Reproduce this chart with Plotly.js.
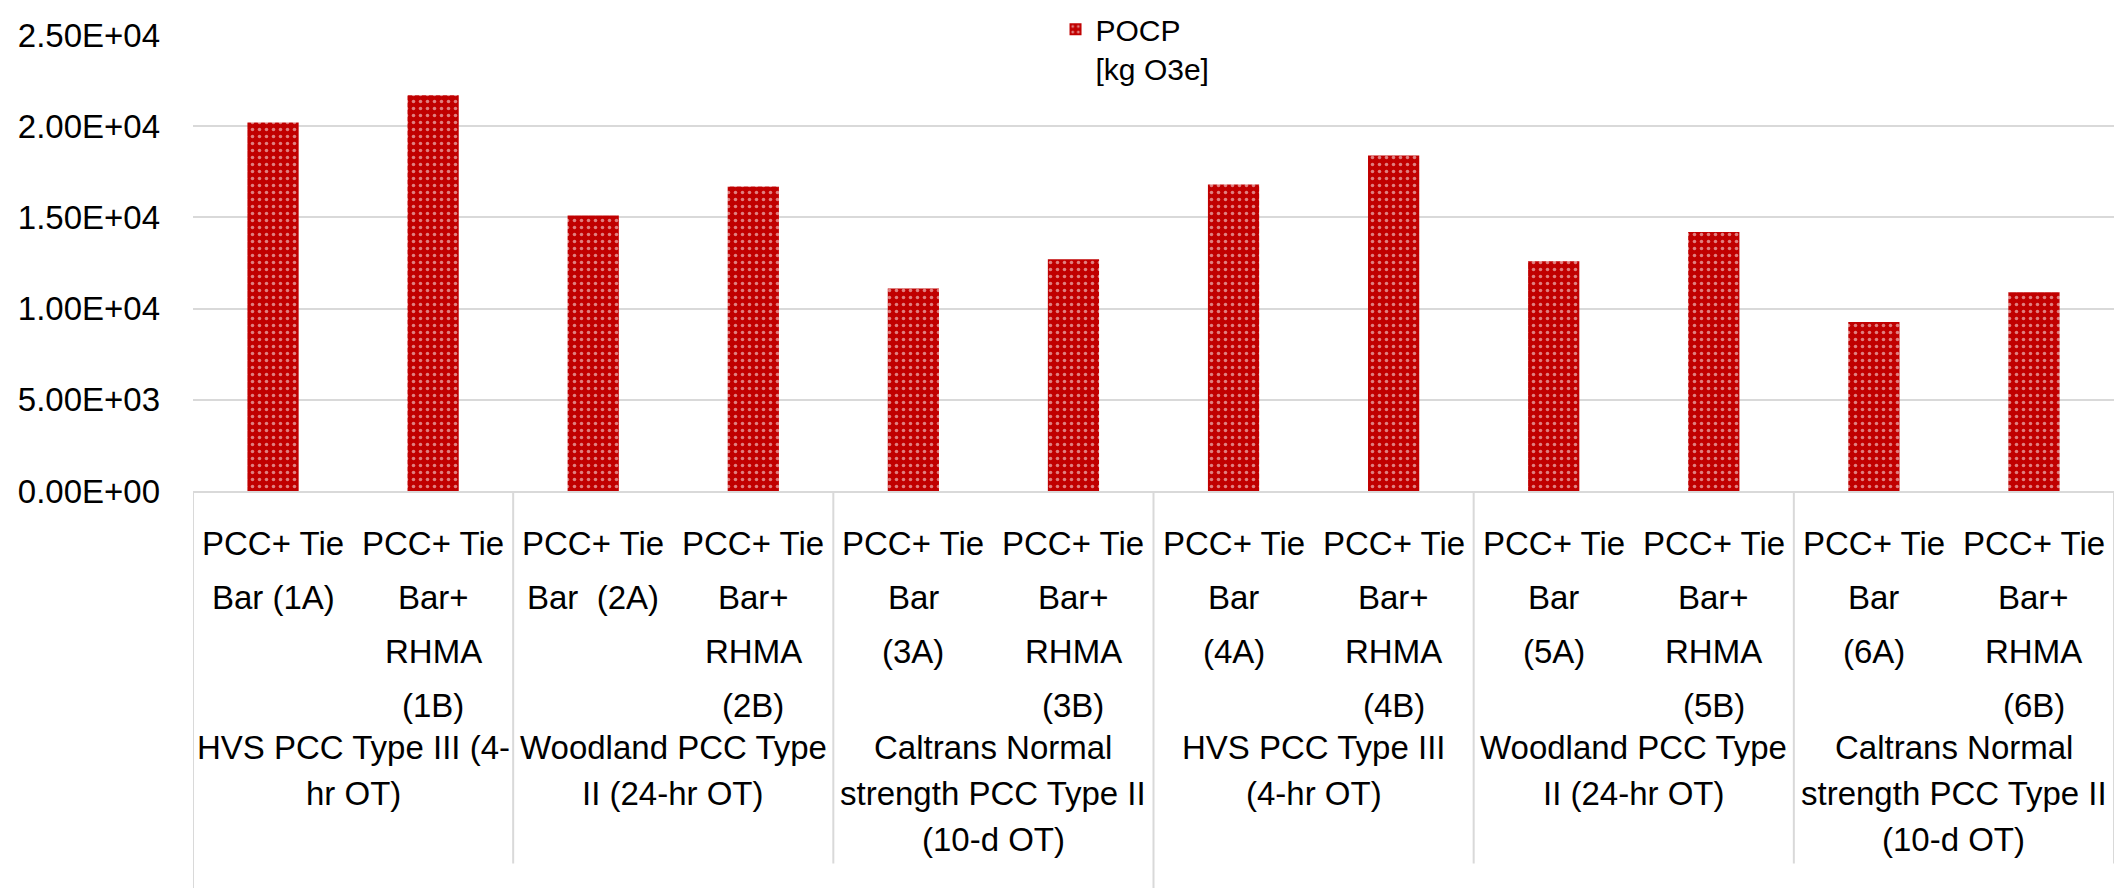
<!DOCTYPE html>
<html><head><meta charset="utf-8">
<script src="https://cdn.plot.ly/plotly-3.0.1.min.js"></script>
<style>html,body{margin:0;padding:0;background:#fff}#chart{width:2117px;height:888px}</style>
</head><body><div id="chart"></div>
<script>
// ---- data ----
const categories = ["1A","1B","2A","2B","3A","3B","4A","4B","5A","5B","6A","6B"];
const pocpValues = [20200, 21700, 15100, 16700, 11100, 12700, 16800, 18400, 12600, 14200, 9270, 10900];
const categoryLabels = [
  ["PCC+ Tie","Bar (1A)"],
  ["PCC+ Tie","Bar+","RHMA","(1B)"],
  ["PCC+ Tie","Bar\u00a0 (2A)"],
  ["PCC+ Tie","Bar+","RHMA","(2B)"],
  ["PCC+ Tie","Bar","(3A)"],
  ["PCC+ Tie","Bar+","RHMA","(3B)"],
  ["PCC+ Tie","Bar","(4A)"],
  ["PCC+ Tie","Bar+","RHMA","(4B)"],
  ["PCC+ Tie","Bar","(5A)"],
  ["PCC+ Tie","Bar+","RHMA","(5B)"],
  ["PCC+ Tie","Bar","(6A)"],
  ["PCC+ Tie","Bar+","RHMA","(6B)"]
];
const groupLabels = [
  ["HVS PCC Type III (4-","hr OT)"],
  ["Woodland PCC Type","II (24-hr OT)"],
  ["Caltrans Normal","strength PCC Type II","(10-d OT)"],
  ["HVS PCC Type III","(4-hr OT)"],
  ["Woodland PCC Type","II (24-hr OT)"],
  ["Caltrans Normal","strength PCC Type II","(10-d OT)"]
];
const yTickVals = [0, 5000, 10000, 15000, 20000, 25000];
const yTickText = ["0.00E+00","5.00E+03","1.00E+04","1.50E+04","2.00E+04","2.50E+04"];
const seriesName = "POCP<br>[kg O3e]";

// ---- layout constants ----
const W = 2117, H = 888;
const M = {l: 193, r: 3, t: 32, b: 397};
const plotH = H - M.t - M.b;
const FONT = "'Liberation Sans', Arial, sans-serif";
const GRID = "#D9D9D9";
const L1_FIRST = 52, L1_STEP = 54;   // px below axis
const L2_FIRST = 256, L2_STEP = 46;
const DIV_SHORT = 375, DIV_LONG = 400;
const perGroup = categories.length / groupLabels.length;

const xIdx = categories.map((c, i) => i);

const trace = {
  type: "bar",
  x: xIdx,
  y: pocpValues,
  name: seriesName,
  showlegend: true,
  marker: {
    color: "#C00000",
    line: {width: 0},
    pattern: {shape: ".", fgcolor: "#FFFFFF", fillmode: "overlay", size: 7, solidity: 0.2}
  },
  hoverinfo: "y"
};

const annotations = [];
categoryLabels.forEach((lines, i) => {
  lines.forEach((txt, k) => {
    annotations.push({
      xref: "x", yref: "paper", x: xIdx[i], y: 0,
      xanchor: "center", yanchor: "middle",
      yshift: -(L1_FIRST + k * L1_STEP),
      text: txt, showarrow: false,
      font: {family: FONT, size: 33, color: "#000"}
    });
  });
});
groupLabels.forEach((lines, g) => {
  const xc = g * perGroup + (perGroup - 1) / 2;
  lines.forEach((txt, k) => {
    annotations.push({
      xref: "x", yref: "paper", x: xc, y: 0,
      xanchor: "center", yanchor: "middle",
      yshift: -(L2_FIRST + k * L2_STEP),
      text: txt, showarrow: false,
      font: {family: FONT, size: 33, color: "#000"}
    });
  });
});

const shapes = [];
for (let g = 0; g <= groupLabels.length; g++) {
  const long = (g === 0 || g === groupLabels.length / 2);
  const len = long ? DIV_LONG : DIV_SHORT;
  shapes.push({
    type: "line", xref: "x", yref: "paper",
    x0: g * perGroup - 0.5, x1: g * perGroup - 0.5,
    y0: 0, y1: -len / plotH,
    line: {color: GRID, width: 2}
  });
}

const layout = {
  width: W, height: H,
  margin: M,
  paper_bgcolor: "#FFFFFF", plot_bgcolor: "#FFFFFF",
  font: {family: FONT, color: "#000"},
  bargap: 0.68,
  showlegend: true,
  legend: {
    x: 0.449, y: 1 + M.t / plotH, xanchor: "left", yanchor: "top",
    bgcolor: "rgba(0,0,0,0)", valign: "top",
    font: {family: FONT, size: 30, color: "#000"}
  },
  xaxis: {
    range: [-0.5, categories.length - 0.5],
    showticklabels: false, showgrid: false, zeroline: false,
    showline: true, linecolor: GRID, linewidth: 2, ticks: "", fixedrange: true
  },
  yaxis: {
    range: [0, 25000],
    tickvals: yTickVals, ticktext: yTickText,
    showgrid: true, gridcolor: GRID, gridwidth: 2,
    zeroline: false, showline: false, ticks: "",
    ticklabelstandoff: 32,
    tickfont: {family: FONT, size: 33, color: "#000"}
  },
  annotations: annotations,
  shapes: shapes
};

Plotly.newPlot("chart", [trace], layout, {displayModeBar: false, staticPlot: true});
</script>
</body></html>
